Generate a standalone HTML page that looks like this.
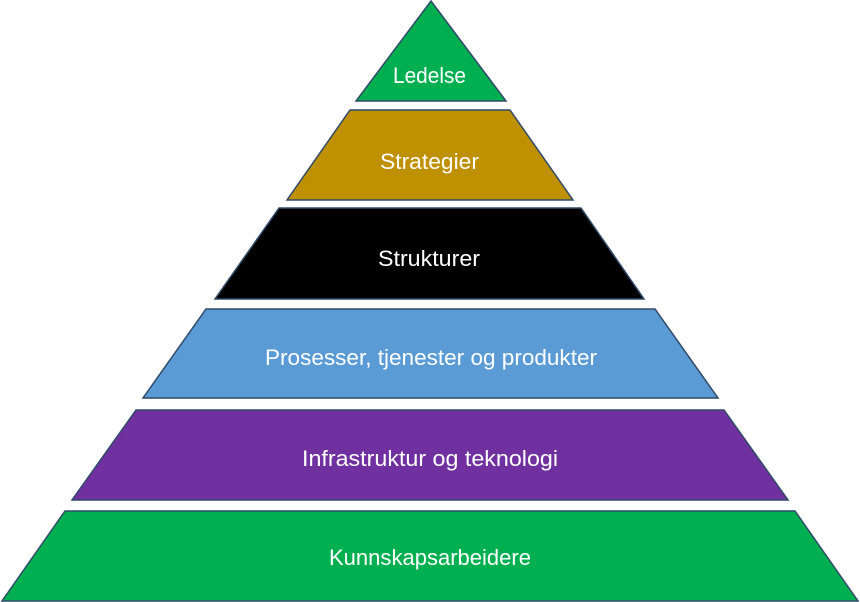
<!DOCTYPE html>
<html><head><meta charset="utf-8"><style>html,body{margin:0;padding:0;background:#fff;}svg{display:block}</style></head>
<body>
<svg width="860" height="602" viewBox="0 0 860 602" xmlns="http://www.w3.org/2000/svg">
<g stroke="#2f4a68" stroke-width="1.5" stroke-linejoin="miter">
<polygon points="431,1 506,101 356,101" fill="#00b050"/>
<polygon points="350,110 510,110 573,200 287,200" fill="#bf9000"/>
<polygon points="279,208 581,208 644,299 215,299" fill="#000000"/>
<polygon points="206,309 655,309 718,398 143,398" fill="#5b9bd5"/>
<polygon points="136,410 724,410 788,500 72,500" fill="#7030a0"/>
<polygon points="65,511 795,511 858,601 2,601" fill="#00b050"/>
</g>
<g fill="#fff" font-family="Liberation Sans, sans-serif" font-size="22">
<text x="393" y="83" textLength="73" lengthAdjust="spacingAndGlyphs">Ledelse</text>
<text x="380" y="169" textLength="99" lengthAdjust="spacingAndGlyphs">Strategier</text>
<text x="378" y="266" textLength="102" lengthAdjust="spacingAndGlyphs">Strukturer</text>
<text x="265" y="365" textLength="332" lengthAdjust="spacingAndGlyphs">Prosesser, tjenester og produkter</text>
<text x="302" y="466" textLength="256" lengthAdjust="spacingAndGlyphs">Infrastruktur og teknologi</text>
<text x="329" y="565" textLength="202" lengthAdjust="spacingAndGlyphs">Kunnskapsarbeidere</text>
</g>
</svg>
</body></html>
